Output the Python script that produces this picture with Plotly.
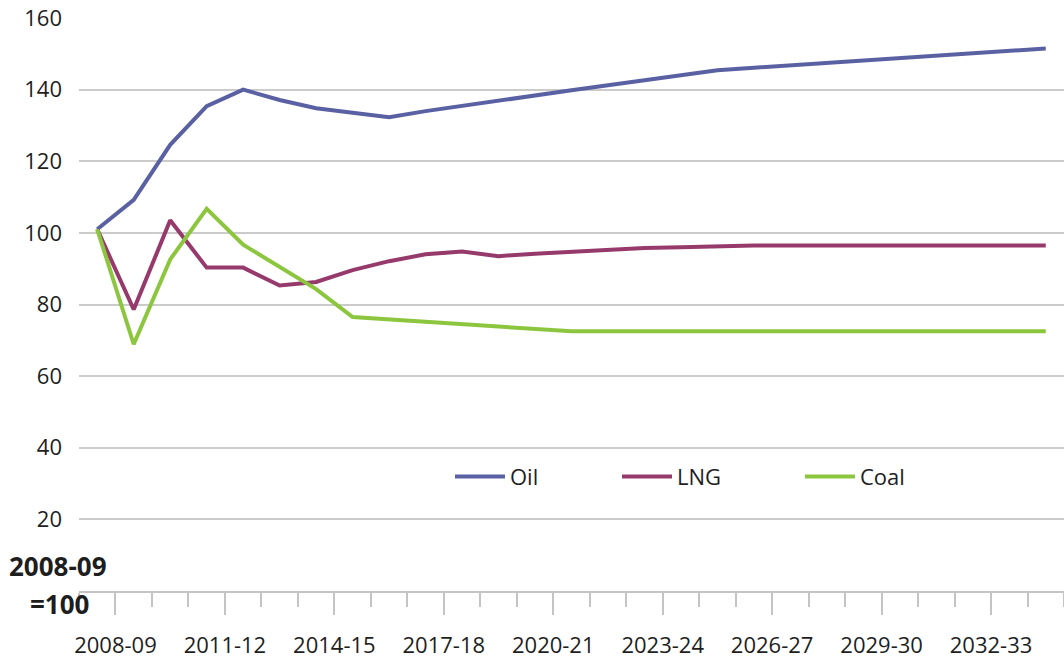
import plotly.graph_objects as go

years = ["2008-09", "2009-10", "2010-11", "2011-12", "2012-13", "2013-14", "2014-15",
         "2015-16", "2016-17", "2017-18", "2018-19", "2019-20", "2020-21", "2021-22",
         "2022-23", "2023-24", "2024-25", "2025-26", "2026-27", "2027-28", "2028-29",
         "2029-30", "2030-31", "2031-32", "2032-33", "2033-34", "2034-35"]

oil = [101, 109.2, 124.6, 135.4, 140.0, 137.1, 134.8, 133.5, 132.3, 134.0, 135.5,
       137.0, 138.5, 139.8, 141.2, 142.6, 144.0, 145.4, 146.1, 146.8, 147.4, 148.1,
       148.8, 149.5, 150.1, 150.8, 151.5]
lng = [101, 78.6, 103.5, 90.3, 90.3, 85.3, 86.3, 89.6, 92.1, 94.0, 94.8, 93.5,
       94.2, 94.8, 95.3, 95.8, 96.0, 96.3, 96.5, 96.5, 96.5, 96.5, 96.5, 96.5,
       96.5, 96.5, 96.5]
coal = [101, 68.9, 92.6, 106.7, 96.7, 90.6, 84.3, 76.5, 75.8, 75.2, 74.5, 73.8,
        73.2, 72.5, 72.5, 72.5, 72.5, 72.5, 72.5, 72.5, 72.5, 72.5, 72.5, 72.5,
        72.5, 72.5, 72.5]

series_names = ["Oil", "LNG", "Coal"]
series_colors = ["#5a61a3", "#963a6c", "#8cc63e"]
y_ticks = [20, 40, 60, 80, 100, 120, 140, 160]
label_every = 3

FONT = "Open Sans"
TXT = "#1e1e1e"

x_idx = list(range(len(years)))

fig = go.Figure()
legend_ids = ["legend", "legend2", "legend3"]
for name, vals, col, lg in zip(series_names, [oil, lng, coal], series_colors, legend_ids):
    fig.add_trace(go.Scatter(x=x_idx, y=vals, mode="lines", name=name,
                             line=dict(color=col, width=4), legend=lg))

major_vals = [i + 0.5 for i in range(0, len(years) - 1, label_every)]
major_text = [years[i] for i in range(0, len(years) - 1, label_every)]

W, H = 1064, 659
ml, mr, mt, mb = 79, 0, 18, 64
pw = W - ml - mr
ph = H - mt - mb

def px_x(p):
    return (p - ml) / pw

def px_y(p):
    return (H - mb - p) / ph

legend_common = dict(orientation="h", xanchor="left", yanchor="middle",
                     bgcolor="rgba(0,0,0,0)", font=dict(family=FONT, size=22, color=TXT),
                     itemwidth=50, tracegroupgap=0)

fig.update_layout(
    width=W, height=H,
    margin=dict(l=ml, r=mr, t=mt, b=mb),
    paper_bgcolor="white", plot_bgcolor="white",
    font=dict(family=FONT, size=22, color=TXT),
    showlegend=True,
    legend=dict(x=px_x(450), y=px_y(480), **legend_common),
    legend2=dict(x=px_x(617), y=px_y(480), **legend_common),
    legend3=dict(x=px_x(800), y=px_y(480), **legend_common),
    xaxis=dict(
        range=[-0.5, len(years) - 0.5],
        tickmode="array", tickvals=major_vals, ticktext=major_text,
        ticks="outside", ticklen=22, tickwidth=1.5, tickcolor="#c4c4c4",
        ticklabelstandoff=12,
        minor=dict(tickmode="linear", tick0=0.5, dtick=1, ticks="outside",
                   ticklen=14, tickwidth=1.5, tickcolor="#c4c4c4", showgrid=False),
        showgrid=False, zeroline=False,
        showline=True, linecolor="#c4c4c4", linewidth=2,
        tickfont=dict(family=FONT, size=22, color=TXT),
        fixedrange=True,
    ),
    yaxis=dict(
        range=[0, 160],
        tickmode="array", tickvals=y_ticks,
        showgrid=True, gridcolor="#cbcbcb", gridwidth=2,
        zeroline=False, showline=False, ticks="",
        ticklabelstandoff=16,
        tickfont=dict(family=FONT, size=22, color=TXT),
        fixedrange=True,
    ),
)

fig.add_annotation(text="<b>2008-09</b>", xref="paper", yref="paper",
                   x=px_x(58), y=px_y(570), xanchor="center", yanchor="middle",
                   showarrow=False, font=dict(family=FONT, size=26, color=TXT))
fig.add_annotation(text="<b>=100</b>", xref="paper", yref="paper",
                   x=px_x(59), y=px_y(608), xanchor="center", yanchor="middle",
                   showarrow=False, font=dict(family=FONT, size=26, color=TXT))

fig.write_html("out.html",
               config={"displayModeBar": False},
               post_script="document.body.style.margin='0';document.body.style.padding='0';"
                           "document.documentElement.style.overflow='hidden';")
